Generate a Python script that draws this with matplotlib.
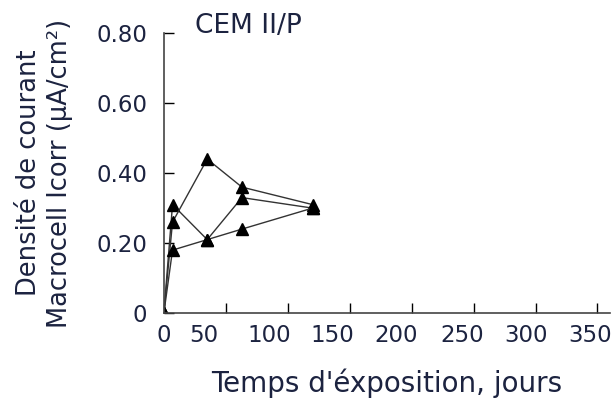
import matplotlib
matplotlib.use("Agg")
import matplotlib.pyplot as plt
from matplotlib.transforms import ScaledTranslation

# exposure days and current density for the three series
jours = [0, 7, 35, 63, 120]
serie_a = [0, 0.31, 0.21, 0.33, 0.30]
serie_b = [0, 0.26, 0.44, 0.36, 0.31]
serie_c = [0, 0.18, 0.21, 0.24, 0.30]

x_ticks = [0, 50, 100, 150, 200, 250, 300, 350]
y_ticks = [0, 0.2, 0.4, 0.6, 0.8]
y_labels = ["0", "0.20", "0.40", "0.60", "0.80"]
# the source figure has its x labels drawn a bit left of the ticks (px)
x_label_shift = [0, -22, -18, -17, -15, -11, -9, -7]

txt = "#1c2340"
plt.rcParams['font.family'] = ['DejaVu Sans']

fig = plt.figure(figsize=(6.16, 4.03), dpi=100)
ax = fig.add_axes([0.266, 0.223, 0.724, 0.695])

for s in (serie_a, serie_b, serie_c):
    ax.plot(jours, s, color="#333333", linewidth=1.0, marker="^",
            markersize=8, markerfacecolor="black", markeredgecolor="black")

ax.set_xlim(0, 360)
ax.set_ylim(0, 0.8)
ax.set_xticks(x_ticks)
ax.set_yticks(y_ticks)
ax.set_yticklabels(y_labels)
ax.tick_params(direction="in", length=7, width=1, labelsize=16.5, labelcolor=txt)
ax.tick_params(axis="y", pad=12)
ax.tick_params(axis="x", pad=8)

for lab, dx in zip(ax.get_xticklabels(), x_label_shift):
    lab.set_transform(lab.get_transform() + ScaledTranslation(dx / 100, 0, fig.dpi_scale_trans))

for side in ("top", "right"):
    ax.spines[side].set_visible(False)
for side in ("left", "bottom"):
    ax.spines[side].set_color("#444444")
    ax.spines[side].set_linewidth(1.2)

ax.set_xlabel("Temps d'éxposition, jours", fontsize=20, color=txt, labelpad=15)
ax.set_ylabel("Densité de courant\nMacrocell Icorr (µA/cm²)", fontsize=18.5,
              color=txt, linespacing=1.28)
ax.yaxis.set_label_coords(-0.203, 0.5)
ax.text(0.07, 1.025, "CEM II/P", transform=ax.transAxes, fontsize=19,
        color=txt, va="center")

fig.savefig("out.png", dpi=100)
